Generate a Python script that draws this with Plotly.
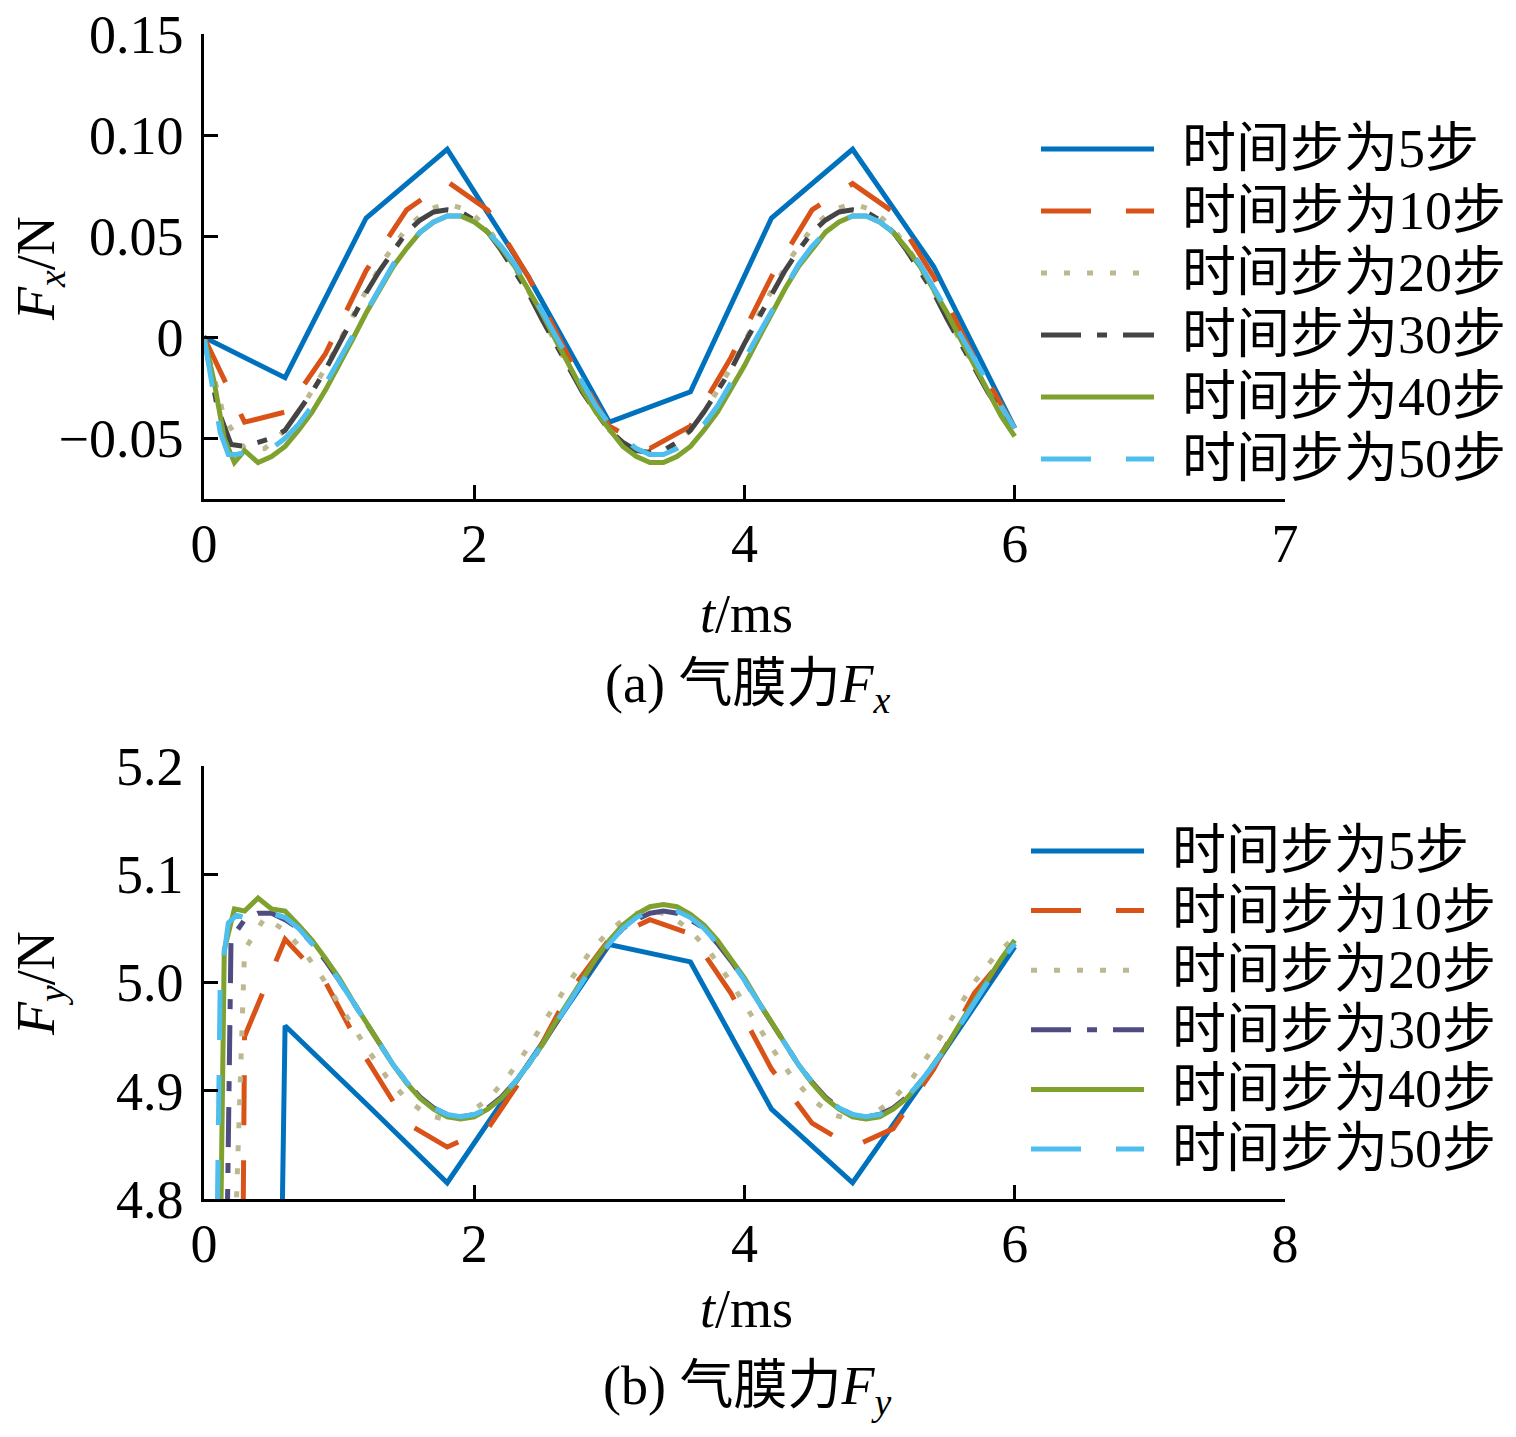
import numpy as np
import plotly.graph_objects as go

# time grids (ms)
def grid(dt, start=0.0, end=6.0):
    n = int(round((end - start) / dt)) + 1
    return list(np.round(start + dt * np.arange(n), 3))

t5 = grid(0.6)
t10 = grid(0.3)
t20 = grid(0.15)
t30 = grid(0.1)
t40 = [0.0, 0.075, 0.15, 0.225, 0.3] + grid(0.1, 0.4)
t50 = [0.0, 0.06, 0.12, 0.18, 0.24, 0.3] + grid(0.1, 0.4)

# ---- Fx (N) ----
fx5 = [0.000, -0.020, 0.059, 0.093, 0.030, -0.042, -0.027, 0.059, 0.093, 0.035, -0.045]
fx10 = [0.000, -0.042, -0.037, -0.008, 0.033, 0.063, 0.077, 0.063, 0.030, -0.010, -0.044,
        -0.055, -0.044, -0.010, 0.030, 0.063, 0.076, 0.062, 0.030, -0.010, -0.045]
fx20 = [0.000, -0.040, -0.055, -0.055, -0.046, -0.032, -0.015, 0.004, 0.023, 0.040, 0.054,
        0.063, 0.066, 0.063, 0.054, 0.040, 0.023, 0.004, -0.015, -0.032, -0.046, -0.055,
        -0.058, -0.055, -0.046, -0.032, -0.015, 0.004, 0.023, 0.040, 0.054, 0.063, 0.066,
        0.063, 0.054, 0.040, 0.023, 0.004, -0.015, -0.032, -0.046]
fx30 = [0.000, -0.035, -0.053, -0.054, -0.052, -0.050, -0.046, -0.037, -0.027, -0.016, -0.003,
        0.009, 0.022, 0.033, 0.043, 0.052, 0.058, 0.062, 0.063, 0.062, 0.058,
        0.052, 0.043, 0.033, 0.022, 0.009, -0.003, -0.016, -0.027, -0.037, -0.046,
        -0.052, -0.056, -0.057, -0.056, -0.052, -0.046, -0.037, -0.027, -0.016, -0.003,
        0.009, 0.022, 0.033, 0.043, 0.052, 0.058, 0.062, 0.063, 0.062, 0.058,
        0.052, 0.043, 0.033, 0.022, 0.009, -0.003, -0.016, -0.027, -0.037, -0.046]
fx40 = [0.000, -0.022, -0.050, -0.062, -0.056,
        -0.062, -0.059, -0.054, -0.046, -0.037, -0.026, -0.014, -0.001, 0.012, 0.024,
        0.035, 0.044, 0.052, 0.057, 0.060, 0.060, 0.057, 0.052, 0.044, 0.035,
        0.024, 0.012, -0.001, -0.014, -0.026, -0.037, -0.046, -0.054, -0.059, -0.062,
        -0.062, -0.059, -0.054, -0.046, -0.037, -0.026, -0.014, -0.001, 0.012, 0.024,
        0.035, 0.044, 0.052, 0.057, 0.060, 0.060, 0.057, 0.052, 0.044, 0.035,
        0.024, 0.012, -0.001, -0.014, -0.027, -0.039, -0.049]
fx50 = [0.000, -0.022, -0.047, -0.058, -0.058, -0.057,
        -0.058, -0.055, -0.050, -0.043, -0.034, -0.023, -0.011, 0.001, 0.013, 0.025,
        0.036, 0.045, 0.052, 0.057, 0.060, 0.060, 0.057, 0.052, 0.045, 0.036,
        0.025, 0.013, 0.001, -0.011, -0.023, -0.034, -0.043, -0.050, -0.055, -0.058,
        -0.058, -0.055, -0.050, -0.043, -0.034, -0.023, -0.011, 0.001, 0.013, 0.025,
        0.036, 0.045, 0.052, 0.057, 0.060, 0.060, 0.057, 0.052, 0.045, 0.036,
        0.025, 0.013, 0.001, -0.011, -0.023, -0.034, -0.045]

# ---- Fy (N) ----
fy5 = [0.0, 4.960, 4.888, 4.815, 4.925, 5.035, 5.019, 4.883, 4.815, 4.922, 5.033]
fy10 = [0.0, 4.950, 5.040, 5.000, 4.930, 4.870, 4.848, 4.865, 4.920, 4.990, 5.040,
        5.058, 5.045, 4.990, 4.920, 4.870, 4.848, 4.865, 4.920, 4.990, 5.035]
fy20 = [0.0, 4.450, 5.030, 5.060, 5.048, 5.027, 5.000, 4.970, 4.940, 4.913, 4.892,
        4.878, 4.873, 4.878, 4.892, 4.913, 4.940, 4.970, 5.000, 5.027, 5.048,
        5.062, 5.067, 5.062, 5.048, 5.027, 5.000, 4.970, 4.940, 4.913, 4.892,
        4.878, 4.873, 4.878, 4.892, 4.913, 4.940, 4.970, 5.000, 5.024, 5.042]
fy30 = [0.0, 4.100, 5.040, 5.058, 5.064, 5.064, 5.058, 5.050, 5.036, 5.020, 5.002,
        4.982, 4.962, 4.942, 4.924, 4.908, 4.894, 4.884, 4.878, 4.876, 4.878,
        4.884, 4.894, 4.908, 4.924, 4.942, 4.962, 4.982, 5.002, 5.020, 5.036,
        5.050, 5.058, 5.064, 5.066, 5.064, 5.058, 5.050, 5.036, 5.020, 5.002,
        4.982, 4.962, 4.942, 4.924, 4.908, 4.894, 4.884, 4.878, 4.876, 4.878,
        4.884, 4.894, 4.908, 4.924, 4.942, 4.962, 4.982, 5.002, 5.020, 5.036]
fy40 = [0.0, 4.300, 5.030, 5.068, 5.066,
        5.078, 5.068, 5.066, 5.053, 5.039, 5.022, 5.004, 4.983, 4.963, 4.942,
        4.924, 4.907, 4.893, 4.883, 4.876, 4.874, 4.876, 4.883, 4.893, 4.907,
        4.924, 4.942, 4.963, 4.983, 5.004, 5.022, 5.039, 5.053, 5.063, 5.070,
        5.072, 5.070, 5.063, 5.053, 5.039, 5.022, 5.004, 4.983, 4.963, 4.942,
        4.924, 4.907, 4.893, 4.883, 4.876, 4.874, 4.876, 4.883, 4.893, 4.907,
        4.924, 4.942, 4.963, 4.983, 5.004, 5.022, 5.039]
fy50 = [0.0, 4.400, 5.000, 5.055, 5.062, 5.060,
        5.066, 5.064, 5.060, 5.050, 5.036, 5.020, 5.002, 4.982, 4.962, 4.942,
        4.924, 4.908, 4.894, 4.884, 4.878, 4.876, 4.878, 4.884, 4.894, 4.908,
        4.924, 4.942, 4.962, 4.982, 5.002, 5.020, 5.036, 5.050, 5.060, 5.066,
        5.068, 5.066, 5.060, 5.050, 5.036, 5.020, 5.002, 4.982, 4.962, 4.942,
        4.924, 4.908, 4.894, 4.884, 4.878, 4.876, 4.878, 4.884, 4.894, 4.908,
        4.924, 4.942, 4.962, 4.982, 5.002, 5.020, 5.036]

names = ["时间步为5步", "时间步为10步", "时间步为20步", "时间步为30步", "时间步为40步", "时间步为50步"]
times = [t5, t10, t20, t30, t40, t50]
fx_all = [fx5, fx10, fx20, fx30, fx40, fx50]
fy_all = [fy5, fy10, fy20, fy30, fy40, fy50]

colors_a = ["#0072BD", "#D95319", "#BDB890", "#444444", "#7FA12E", "#4DBEEE"]
colors_b = ["#0072BD", "#D95319", "#BDB890", "#4E4C80", "#7FA12E", "#4DBEEE"]
dashes = ["solid", "50px,35px", "6px,17px", "40px,16px,10px,16px", "solid", "50px,35px"]
LW = 5

W, H = 1516, 1437
OX, OY = 7, 9  # page offset of the figure in the screenshot
FONT = "Liberation Serif, Noto Sans CJK SC"
FS = 54


def px(x):
    return (x - OX) / W


def py(y):
    return 1 - (y - OY) / H


fig = go.Figure()
for i in range(6):
    fig.add_trace(go.Scatter(x=times[i], y=fx_all[i], mode="lines", name=names[i],
                             line=dict(color=colors_a[i], width=LW, dash=dashes[i]),
                             xaxis="x", yaxis="y", showlegend=False))
for i in range(6):
    fig.add_trace(go.Scatter(x=times[i], y=fy_all[i], mode="lines", name=names[i],
                             line=dict(color=colors_b[i], width=LW, dash=dashes[i]),
                             xaxis="x2", yaxis="y2", showlegend=False))

axis_common = dict(showline=True, linecolor="black", linewidth=2.5, ticks="inside",
                   ticklen=14, tickwidth=2.5, tickcolor="black", showgrid=False,
                   zeroline=False, mirror=False, automargin=False, ticklabeloverflow="allow",
                   tickfont=dict(family=FONT, size=FS, color="black"))

xdom = [px(203), px(1284)]
fig.update_layout(
    width=W, height=H,
    margin=dict(l=0, r=0, t=0, b=0, pad=0, autoexpand=False),
    paper_bgcolor="white", plot_bgcolor="white",
    xaxis=dict(domain=xdom, range=[0, 8], tickvals=[0, 2, 4, 6, 8],
               ticktext=["0", "2", "4", "6", "7"], anchor="y", ticklabelstandoff=-5, **axis_common),
    yaxis=dict(domain=[py(500), py(35)], range=[-0.08, 0.15],
               tickvals=[-0.05, 0, 0.05, 0.10, 0.15],
               ticktext=["\u22120.05", "0", "0.05", "0.10", "0.15"], anchor="x",
               ticklabelstandoff=7, **axis_common),
    xaxis2=dict(domain=xdom, range=[0, 8], tickvals=[0, 2, 4, 6, 8],
                ticktext=["0", "2", "4", "6", "8"], anchor="y2", ticklabelstandoff=-5, **axis_common),
    yaxis2=dict(domain=[py(1200), py(767)], range=[4.8, 5.2],
                tickvals=[4.8, 4.9, 5.0, 5.1, 5.2],
                ticktext=["4.8", "4.9", "5.0", "5.1", "5.2"], anchor="x2",
                ticklabelstandoff=7, **axis_common),
)

tf = dict(family=FONT, size=FS, color="black")
ann = [
    dict(text="<i>t</i>/ms", x=px(745), y=py(615)),
    dict(text="(a) 气膜力<i>F<sub>x</sub></i>", x=px(746), y=py(688)),
    dict(text="<i>F<sub>x</sub></i>/N", x=px(38), y=py(270), textangle=-90),
    dict(text="<i>t</i>/ms", x=px(745), y=py(1310)),
    dict(text="(b) 气膜力<i>F<sub>y</sub></i>", x=px(746), y=py(1390)),
    dict(text="<i>F<sub>y</sub></i>/N", x=px(38), y=py(985), textangle=-90),
]
for a in ann:
    fig.add_annotation(xref="paper", yref="paper", showarrow=False, font=tf,
                       xanchor="center", yanchor="middle", **a)

# legends drawn as line samples + text
legends = [
    dict(y0=150, dy=62, x0=1040, x1=1153, tx=1179, colors=colors_a),
    dict(y0=852, dy=59.6, x0=1030, x1=1143, tx=1169, colors=colors_b),
]
for lg in legends:
    for i in range(6):
        yy = py(lg["y0"] + lg["dy"] * i)
        fig.add_shape(type="line", xref="paper", yref="paper",
                      x0=px(lg["x0"]), x1=px(lg["x1"]), y0=yy, y1=yy,
                      line=dict(color=lg["colors"][i], width=LW, dash=dashes[i]))
        fig.add_annotation(xref="paper", yref="paper", x=px(lg["tx"]), y=yy,
                           text=names[i], showarrow=False, xanchor="left", yanchor="middle",
                           font=tf)

fig.write_html("out.html")
